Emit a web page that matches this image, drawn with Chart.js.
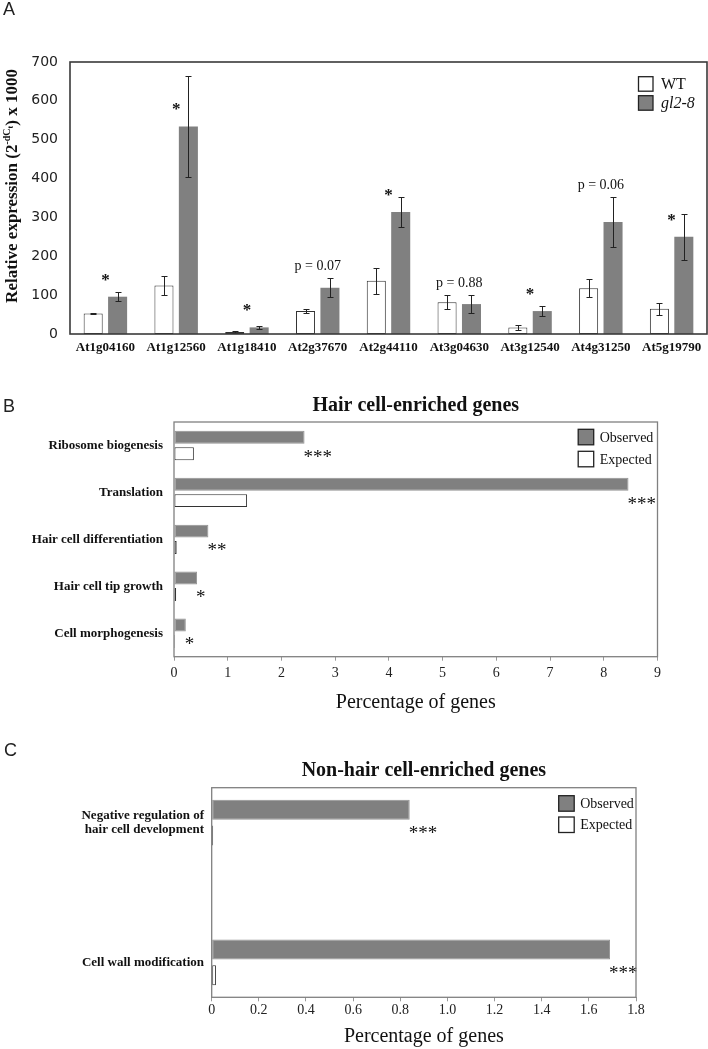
<!DOCTYPE html>
<html>
<head>
<meta charset="utf-8">
<script src="https://cdn.jsdelivr.net/npm/chart.js@4.4.0/dist/chart.umd.min.js"></script>
<style>
  body { margin: 0; background: #fff; width: 708px; height: 1049px; position: relative; overflow: hidden; }
  canvas { position: absolute; left: 0; }
  .tag { position: absolute; font: 18px/18px "Liberation Sans", Arial, sans-serif; color: #222; }
</style>
</head>
<body>
<canvas id="chartA" width="708" height="370" style="top:0"></canvas>
<canvas id="chartB" width="708" height="340" style="top:375px"></canvas>
<canvas id="chartC" width="708" height="309" style="top:740px"></canvas>
<div class="tag" style="left:3px;top:0">A</div>
<div class="tag" style="left:3px;top:397px">B</div>
<div class="tag" style="left:4px;top:741px">C</div>
<script>
// ---- panel A: qPCR, WT vs gl2-8 ----
const genes   = ['At1g04160', 'At1g12560', 'At1g18410', 'At2g37670', 'At2g44110',
                 'At3g04630', 'At3g12540', 'At4g31250', 'At5g19790'];
const wtMean  = [53, 125, 5, 59, 137, 82, 17, 118, 65];
const wtErr   = [1, 25, 2, 5, 33, 18, 6, 24, 15];
const gl2Mean = [96, 534, 17, 119, 314, 77, 59, 288, 250];
const gl2Err  = [12, 131, 4, 25, 39, 23, 13, 64, 60];
const aMarks  = ['*', '*', '*', 'p = 0.07', '*', 'p = 0.88', '*', 'p = 0.06', '*'];
const aTicks  = [0, 100, 200, 300, 400, 500, 600, 700];

// ---- panel B: hair cell-enriched GO terms ----
const hairTerms    = ['Ribosome biogenesis', 'Translation', 'Hair cell differentiation',
                      'Hair cell tip growth', 'Cell morphogenesis'];
const hairObserved = [2.43, 8.46, 0.64, 0.43, 0.22];
const hairExpected = [0.37, 1.36, 0.05, 0.04, 0.02];
const hairMarks    = ['***', '***', '**', '*', '*'];
const hairTicks    = [0, 1, 2, 3, 4, 5, 6, 7, 8, 9];

// ---- panel C: non-hair cell-enriched GO terms ----
const nonHairTerms    = [['Negative regulation of', 'hair cell development'], 'Cell wall modification'];
const nonHairObserved = [0.84, 1.69];
const nonHairExpected = [0.006, 0.018];
const nonHairMarks    = ['***', '***'];
const nonHairTicks    = [0, 0.2, 0.4, 0.6, 0.8, 1, 1.2, 1.4, 1.6, 1.8];

const SERIF = "'Liberation Serif', 'Times New Roman', serif";
const GRAY = '#808080';
const INK = '#111';

function font(size, weight, style) {
  return `${style || 'normal'} ${weight || 'normal'} ${size}px ${SERIF}`;
}

// frame round the plot + legend squares inside the top right corner
function framePlugin(o) {
  return {
    id: 'frame_' + o.name,
    afterDraw(chart) {
      const { ctx, chartArea: a } = chart;
      ctx.save();
      ctx.strokeStyle = o.frameColor;
      ctx.lineWidth = o.frameWidth;
      ctx.strokeRect(a.left, a.top, a.right - a.left, a.bottom - a.top);

      chart.data.datasets.forEach((ds, i) => {
        const x = a.right - o.lgRight;
        const y = a.top + o.lgTop + i * o.lgStep;
        ctx.fillStyle = ds.backgroundColor;
        ctx.fillRect(x, y, o.lgSize, o.lgSize);
        ctx.strokeStyle = '#222';
        ctx.lineWidth = 1.3;
        ctx.strokeRect(x, y, o.lgSize, o.lgSize);
        ctx.fillStyle = INK;
        ctx.font = font(o.lgFont, 'normal', ds.italic ? 'italic' : 'normal');
        ctx.textBaseline = 'middle';
        ctx.textAlign = 'left';
        ctx.fillText(ds.label, x + o.lgSize + o.lgGap, y + o.lgSize / 2 + 1);
      });
      ctx.restore();
    },
  };
}

// mean +/- error whiskers
const errorBars = {
  id: 'errorBars',
  afterDatasetsDraw(chart) {
    const { ctx } = chart;
    const y = chart.scales.y;
    ctx.save();
    ctx.strokeStyle = '#222';
    ctx.lineWidth = 1;
    chart.data.datasets.forEach((ds, di) => {
      chart.getDatasetMeta(di).data.forEach((bar, i) => {
        const m = ds.data[i], e = ds.errors[i];
        const x = Math.round(bar.x) + 0.5;
        const top = Math.round(y.getPixelForValue(m + e)) + 0.5;
        const bot = Math.round(y.getPixelForValue(Math.max(0, m - e))) + 0.5;
        ctx.beginPath();
        ctx.moveTo(x, top); ctx.lineTo(x, bot);
        ctx.moveTo(x - 3, top); ctx.lineTo(x + 3, top);
        ctx.moveTo(x - 3, bot); ctx.lineTo(x + 3, bot);
        ctx.stroke();
      });
    });
    ctx.restore();
  },
};

// stars and p values over each gene
const aLabels = {
  id: 'aLabels',
  afterDatasetsDraw(chart) {
    const { ctx } = chart;
    const x = chart.scales.x, y = chart.scales.y;
    ctx.save();
    ctx.fillStyle = INK;
    ctx.textAlign = 'center';
    aMarks.forEach((m, i) => {
      const cx = x.getPixelForValue(i);
      if (m.startsWith('*')) {
        ctx.font = font(17, 'bold');
        ctx.textBaseline = 'alphabetic';
        ctx.fillText(m, cx, y.getPixelForValue(gl2Mean[i]) - 20 + 0.47 * 17);
      } else {
        const top = Math.max(wtMean[i] + wtErr[i], gl2Mean[i] + gl2Err[i]);
        ctx.font = font(14);
        ctx.textBaseline = 'middle';
        ctx.fillText(m, cx, y.getPixelForValue(top) - 12);
      }
    });
    ctx.restore();
  },
};

// rotated y title with the 2^-dCt exponent
const aYTitle = {
  id: 'aYTitle',
  afterDraw(chart) {
    const { ctx, chartArea: a } = chart;
    const parts = [
      { t: 'Relative expression (2', s: 17, dy: 0 },
      { t: '-dC', s: 10, dy: -7 },
      { t: 't', s: 8, dy: -4 },
      { t: ') x 1000', s: 17, dy: 0 },
    ];
    ctx.save();
    ctx.translate(11, (a.top + a.bottom) / 2 - 12);
    ctx.rotate(-Math.PI / 2);
    ctx.fillStyle = INK;
    ctx.textBaseline = 'alphabetic';
    ctx.textAlign = 'left';
    let w = 0;
    parts.forEach(p => { ctx.font = font(p.s, 'bold'); p.w = ctx.measureText(p.t).width; w += p.w; });
    let px = -w / 2;
    parts.forEach(p => {
      ctx.font = font(p.s, 'bold');
      ctx.fillText(p.t, px, 6 + p.dy);
      px += p.w;
    });
    ctx.restore();
  },
};

new Chart(document.getElementById('chartA'), {
  type: 'bar',
  data: {
    labels: genes,
    datasets: [
      { label: 'WT', data: wtMean, errors: wtErr, backgroundColor: '#ffffff',
        borderColor: '#333', borderWidth: 1, borderSkipped: false,
        categoryPercentage: 0.69, barPercentage: 0.78 },
      { label: 'gl2-8', italic: true, data: gl2Mean, errors: gl2Err, backgroundColor: GRAY,
        borderWidth: 0, categoryPercentage: 0.69, barPercentage: 0.78 },
    ],
  },
  options: {
    responsive: false,
    animation: false,
    layout: { padding: { top: 62, right: 1 } },
    plugins: { legend: { display: false }, tooltip: { enabled: false } },
    scales: {
      x: {
        grid: { display: false, drawTicks: false },
        border: { display: false },
        ticks: { color: INK, font: { family: SERIF, size: 13, weight: 'bold' }, padding: 6,
                 maxRotation: 0, autoSkip: false },
        afterFit: s => { s.height = 36; },
      },
      y: {
        min: aTicks[0],
        max: aTicks[aTicks.length - 1],
        grid: { display: false, drawTicks: false },
        border: { display: false },
        ticks: { stepSize: aTicks[1] - aTicks[0], color: '#222', padding: 12,
                 font: { family: "'DejaVu Sans', Verdana, sans-serif", size: 14 } },
        afterFit: s => { s.width = 70; },
      },
    },
  },
  plugins: [errorBars, aLabels, aYTitle,
    framePlugin({ name: 'A', frameColor: '#3a3a3a', frameWidth: 1.6,
                  lgRight: 68.5, lgTop: 14.7, lgStep: 19, lgSize: 14.5, lgGap: 8, lgFont: 16 })],
});

// stars to the right of the observed bars
function starPlugin(marks, size, dy) {
  return {
    id: 'stars',
    afterDatasetsDraw(chart) {
      const { ctx } = chart;
      const obs = chart.getDatasetMeta(0).data;
      const exp = chart.getDatasetMeta(1).data;
      ctx.save();
      ctx.fillStyle = INK;
      ctx.font = font(size);
      ctx.textAlign = 'left';
      ctx.textBaseline = 'alphabetic';
      let k = 0;
      obs.forEach((bar, i) => {
        if (chart.data.datasets[0].data[i] == null) return;
        ctx.fillText(marks[k++], bar.x - 1, exp[i].y + dy + 0.47 * size);
      });
      ctx.restore();
    },
  };
}

function goChart(id, cfg) {
  return new Chart(document.getElementById(id), {
    type: 'bar',
    data: {
      labels: cfg.labels,
      datasets: [
        { label: 'Observed', data: cfg.observed, backgroundColor: GRAY, borderColor: '#939393',
          borderWidth: 1, borderSkipped: false,
          categoryPercentage: cfg.catPct, barPercentage: cfg.barPct },
        { label: 'Expected', data: cfg.expected, backgroundColor: '#ffffff', borderColor: '#333',
          borderWidth: 1, borderSkipped: false,
          categoryPercentage: cfg.catPct, barPercentage: cfg.barPct },
      ],
    },
    options: {
      indexAxis: 'y',
      responsive: false,
      animation: false,
      layout: { padding: { right: cfg.padRight } },
      plugins: {
        legend: { display: false },
        tooltip: { enabled: false },
        title: { display: true, text: cfg.title, fullSize: false, color: INK,
                 font: { family: SERIF, size: 20, weight: 'bold', lineHeight: 1.2 },
                 padding: { top: cfg.titleTop, bottom: cfg.titleBottom } },
      },
      scales: {
        x: {
          min: cfg.ticks[0],
          max: cfg.ticks[cfg.ticks.length - 1],
          grid: { drawOnChartArea: false, drawTicks: true, tickLength: 4, color: '#999' },
          border: { display: false },
          ticks: { stepSize: cfg.ticks[1] - cfg.ticks[0], color: '#222', padding: cfg.tickPad,
                   font: { family: SERIF, size: 14 } },
          title: { display: true, text: 'Percentage of genes', color: INK,
                   font: { family: SERIF, size: 20, lineHeight: 1.2 }, padding: 0 },
          afterFit: s => { s.height = cfg.xHeight; },
        },
        y: {
          offset: cfg.offset,
          grid: { display: false, drawTicks: false },
          border: { display: false },
          ticks: { color: INK, padding: cfg.labelPad, autoSkip: false,
                   font: { family: SERIF, size: 13, weight: 'bold', lineHeight: 1.13 } },
          afterFit: s => { s.width = cfg.yWidth; },
        },
      },
    },
    plugins: [starPlugin(cfg.marks, 19, cfg.starDy),
      framePlugin({ name: id, frameColor: '#808080', frameWidth: 1.3,
                    lgRight: cfg.lgRight, lgTop: cfg.lgTop, lgStep: cfg.lgStep,
                    lgSize: 15.5, lgGap: 6, lgFont: 14 })],
  });
}

goChart('chartB', {
  title: 'Hair cell-enriched genes',
  labels: hairTerms, observed: hairObserved, expected: hairExpected, marks: hairMarks,
  ticks: hairTicks, offset: true, catPct: 0.70, barPct: 0.79,
  padRight: 50.5, titleTop: 19, titleBottom: 4, xHeight: 58.3, tickPad: 4,
  yWidth: 174, labelPad: 11, starDy: 0, lgRight: 79.3, lgTop: 7.3, lgStep: 22,
});

// two terms sit at slots 1 and 5 of a 7-slot axis, as in the original layout
const nonHairSlots = [1, 5];
const cLabels = Array(7).fill('');
const cObs = Array(7).fill(null);
const cExp = Array(7).fill(null);
nonHairSlots.forEach((s, i) => {
  cLabels[s] = nonHairTerms[i];
  cObs[s] = nonHairObserved[i];
  cExp[s] = nonHairExpected[i];
});

goChart('chartC', {
  title: 'Non-hair cell-enriched genes',
  labels: cLabels, observed: cObs, expected: cExp, marks: nonHairMarks,
  ticks: nonHairTicks, offset: false, catPct: 1.477, barPct: 0.775,
  padRight: 72, titleTop: 18.7, titleBottom: 5, xHeight: 51.7, tickPad: 1,
  yWidth: 211.7, labelPad: 7.7, starDy: -5, lgRight: 77.3, lgTop: 8, lgStep: 21.3,
});
</script>
</body>
</html>
